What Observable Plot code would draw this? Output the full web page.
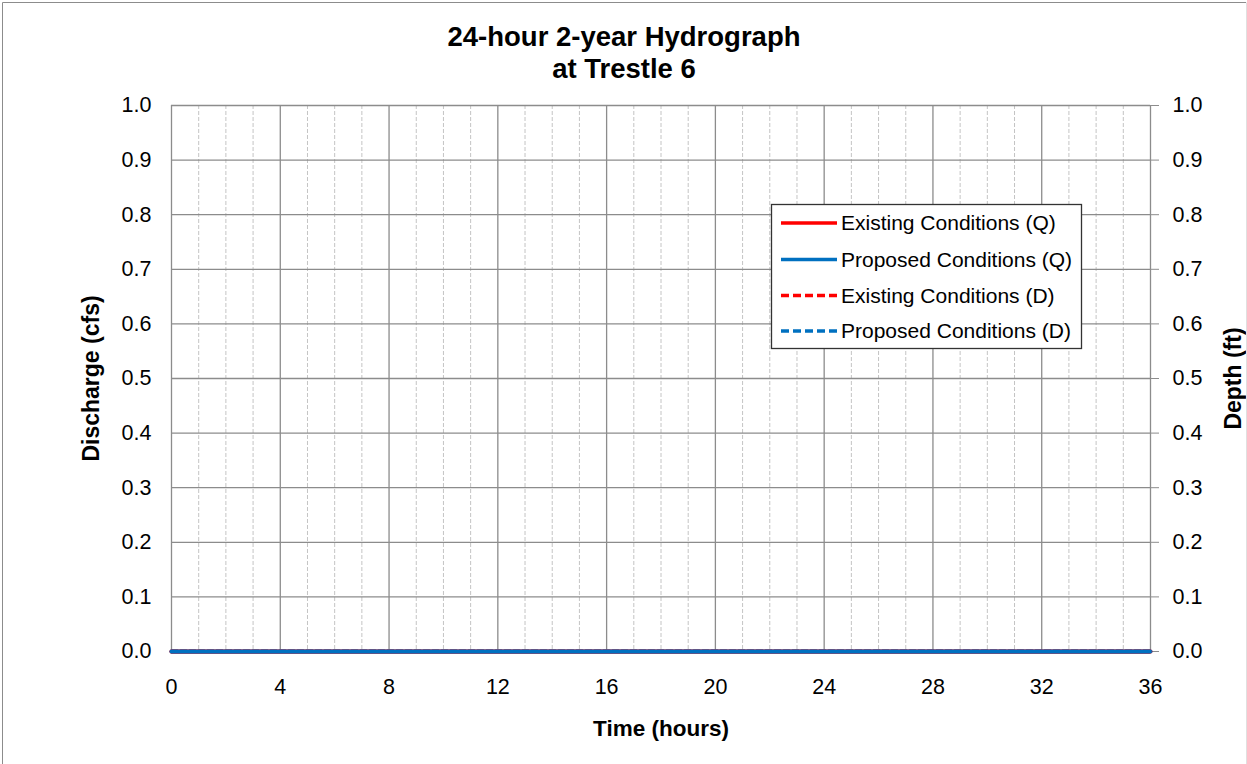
<!DOCTYPE html>
<html>
<head>
<meta charset="utf-8">
<script src="https://cdn.jsdelivr.net/npm/d3@7"></script>
<script src="https://cdn.jsdelivr.net/npm/@observablehq/plot@0.6"></script>
<style>
  html, body { margin: 0; padding: 0; background: #fff; }
  #chart svg { display: block; }
</style>
</head>
<body>
<div id="chart"></div>
<script>
// ---- data (all series flat at zero) ----
const timeHours = [0,1,2,3,4,5,6,7,8,9,10,11,12,13,14,15,16,17,18,19,20,21,22,23,24,25,26,27,28,29,30,31,32,33,34,35,36];
const existingQ = [0,0,0,0,0,0,0,0,0,0,0,0,0,0,0,0,0,0,0,0,0,0,0,0,0,0,0,0,0,0,0,0,0,0,0,0,0];
const proposedQ = [0,0,0,0,0,0,0,0,0,0,0,0,0,0,0,0,0,0,0,0,0,0,0,0,0,0,0,0,0,0,0,0,0,0,0,0,0];
const existingD = [0,0,0,0,0,0,0,0,0,0,0,0,0,0,0,0,0,0,0,0,0,0,0,0,0,0,0,0,0,0,0,0,0,0,0,0,0];
const proposedD = [0,0,0,0,0,0,0,0,0,0,0,0,0,0,0,0,0,0,0,0,0,0,0,0,0,0,0,0,0,0,0,0,0,0,0,0,0];

const xMajorTicks = [0,4,8,12,16,20,24,28,32,36];
const xMinorTicks = [1,2,3,5,6,7,9,10,11,13,14,15,17,18,19,21,22,23,25,26,27,29,30,31,33,34,35];
const yTicks = [0,0.1,0.2,0.3,0.4,0.5,0.6,0.7,0.8,0.9,1.0];

const titleLines = ["24-hour 2-year Hydrograph", "at Trestle 6"];
const xLabel = "Time (hours)";
const yLeftLabel = "Discharge (cfs)";
const yRightLabel = "Depth (ft)";
const seriesNames = ["Existing Conditions (Q)", "Proposed Conditions (Q)", "Existing Conditions (D)", "Proposed Conditions (D)"];
const seriesColors = ["#FF0000", "#0070C0", "#FF0000", "#0070C0"];
const seriesDash = [null, null, "6,3", "6,3"];

const series = [existingQ, proposedQ, existingD, proposedD];
const tables = series.map(vals => timeHours.map((t, i) => ({t, v: vals[i]})));

const FONT = "'Liberation Sans', Arial, Helvetica, sans-serif";

const chart = Plot.plot({
  width: 1247,
  height: 764,
  marginLeft: 171,
  marginRight: 97,
  marginTop: 105,
  marginBottom: 113,
  style: {fontFamily: FONT, fontSize: "21px", color: "#000", background: "#fff", overflow: "visible"},
  x: {domain: [0, 36]},
  y: {domain: [0, 1]},
  marks: [
    Plot.gridX(xMinorTicks, {stroke: "#c4c4c4", strokeOpacity: 1, strokeDasharray: "4,2", strokeWidth: 1}),
    Plot.gridX(xMajorTicks, {stroke: "#8c8c8c", strokeOpacity: 1, strokeWidth: 1.3}),
    Plot.gridY(yTicks, {stroke: "#8c8c8c", strokeOpacity: 1, strokeWidth: 1.3}),
    Plot.axisX(xMajorTicks, {tickSize: 0, tickPadding: 27, fontSize: 21.5, label: null}),
    Plot.axisY(yTicks, {anchor: "left", tickSize: 0, tickPadding: 20, tickFormat: d => d.toFixed(1), fontSize: 21.5, label: null}),
    Plot.axisY(yTicks, {anchor: "right", tickSize: 8, tickPadding: 14, stroke: "#8c8c8c", tickFormat: d => d.toFixed(1), fontSize: 21.5, label: null}),
    ...tables.map((tb, i) => Plot.line(tb, {
      x: "t", y: "v", stroke: seriesColors[i], strokeWidth: 4,
      strokeDasharray: seriesDash[i] || undefined
    })),
    Plot.text([titleLines[0]], {frameAnchor: "top", dx: -37, dy: -68, lineAnchor: "middle", textAnchor: "middle", fontWeight: "bold", fontSize: 27.5}),
    Plot.text([titleLines[1]], {frameAnchor: "top", dx: -37, dy: -36, lineAnchor: "middle", textAnchor: "middle", fontWeight: "bold", fontSize: 27.5}),
    Plot.text([xLabel], {frameAnchor: "bottom", dy: 77, lineAnchor: "middle", textAnchor: "middle", fontWeight: "bold", fontSize: 22.5}),
    Plot.text([yLeftLabel], {frameAnchor: "left", dx: -80, rotate: -90, lineAnchor: "middle", textAnchor: "middle", fontWeight: "bold", fontSize: 23}),
    Plot.text([yRightLabel], {frameAnchor: "right", dx: 83, rotate: -90, lineAnchor: "middle", textAnchor: "middle", fontWeight: "bold", fontSize: 23})
  ]
});

// text color black (axis marks use currentColor)
d3.select(chart).selectAll("text").attr("fill", "#000");

// legend
const svg = d3.select(chart);
const lg = svg.append("g").attr("font-family", FONT).attr("font-size", 21).attr("text-anchor", "start");
lg.append("rect").attr("x", 771.5).attr("y", 204.5).attr("width", 310).attr("height", 144)
  .attr("fill", "#fff").attr("stroke", "#333").attr("stroke-width", 1.3);
const rowsY = [223, 259.5, 295.5, 331];
seriesNames.forEach((name, i) => {
  lg.append("line").attr("x1", 781).attr("x2", 837).attr("y1", rowsY[i]).attr("y2", rowsY[i])
    .attr("stroke", seriesColors[i]).attr("stroke-width", 3.5)
    .attr("stroke-dasharray", seriesDash[i] ? "8,4" : null);
  lg.append("text").attr("x", 841).attr("y", rowsY[i]).attr("dy", "0.35em")
    .attr("text-anchor", "start").attr("fill", "#000").text(name);
});

// outer chart border
svg.append("line").attr("x1", 2.5).attr("x2", 2.5).attr("y1", 2.5).attr("y2", 764).attr("stroke", "#8c8c8c");
svg.append("line").attr("x1", 2.5).attr("x2", 1246).attr("y1", 2.5).attr("y2", 2.5).attr("stroke", "#8c8c8c");
svg.append("line").attr("x1", 1246.5).attr("x2", 1246.5).attr("y1", 2.5).attr("y2", 764).attr("stroke", "#e0e0e0");

document.getElementById("chart").appendChild(chart);
</script>
</body>
</html>
